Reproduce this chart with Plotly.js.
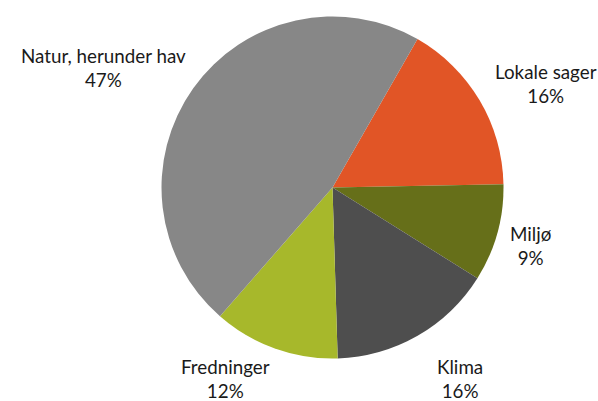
<!DOCTYPE html>
<html><head><meta charset="utf-8">
<script src="https://cdn.plot.ly/plotly-3.0.1.min.js"></script>
<style>html,body{margin:0;padding:0;background:#fff}#chart{width:598px;height:401px}</style>
</head><body><div id="chart"></div>
<script>
const categories = ["Lokale sager", "Miljø", "Klima", "Fredninger", "Natur, herunder hav"];
const values = [16.4, 9.2, 15.6, 11.9, 46.8];
const colors = ["#E15526", "#666F19", "#4E4E4E", "#A7B82B", "#878787"];
// label anchor positions in pixels (layout only)
const labelPos = [[546, 83], [531, 245], [460, 378], [225, 378], [103, 67]];

const W = 598, H = 401;
const total = values.reduce((a, b) => a + b, 0);
const annotations = categories.map((c, i) => ({
  text: c + "<br>" + Math.round(values[i] / total * 100) + "%",
  x: labelPos[i][0] / W, y: 1 - labelPos[i][1] / H,
  xref: "paper", yref: "paper", xanchor: "center", yanchor: "middle",
  showarrow: false, align: "center",
  font: {family: "Lato, Carlito, sans-serif", size: 18.8, color: "#1a1a1a"}
}));

const cx = 332.5, cy = 187.5, r = 171;
Plotly.newPlot("chart", [{
  type: "pie",
  labels: categories,
  values: values,
  marker: {colors: colors, line: {width: 0}},
  sort: false,
  direction: "clockwise",
  rotation: 29.8,
  textinfo: "none",
  hoverinfo: "label+percent",
  domain: {x: [(cx - r) / W, (cx + r) / W], y: [1 - (cy + r) / H, 1 - (cy - r) / H]}
}], {
  width: W, height: H,
  margin: {l: 0, r: 0, t: 0, b: 0},
  showlegend: false,
  paper_bgcolor: "#fff",
  annotations: annotations
}, {staticPlot: true});
</script></body></html>
